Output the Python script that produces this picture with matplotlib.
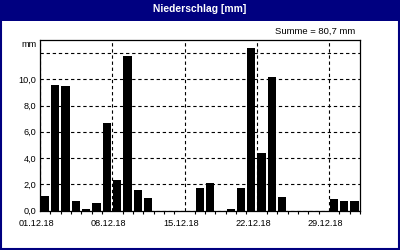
import numpy as np
import matplotlib
matplotlib.use("Agg")
import matplotlib.pyplot as plt
from matplotlib.patches import Rectangle
from matplotlib.transforms import ScaledTranslation

# daily precipitation, December 2018 (mm)
days = list(range(1, 32))
rain = [1.1, 9.6, 9.5, 0.7, 0.1, 0.55, 6.7, 2.3, 11.8, 1.55, 0.95,
        0.0, 0.0, 0.0, 0.0, 1.7, 2.1, 0.0, 0.1, 1.7, 12.4, 4.35,
        10.2, 1.0, 0.0, 0.0, 0.0, 0.0, 0.9, 0.75, 0.7]
xtick_days = [1, 8, 15, 22, 29]
xtick_labels = ['01.12.18', '08.12.18', '15.12.18', '22.12.18', '29.12.18']
ytick_vals = [0, 2, 4, 6, 8, 10]
ytick_labels = ['0,0', '2,0', '4,0', '6,0', '8,0', '10,0']
title = 'Niederschlag [mm]'
summe = 'Summe = 80,7 mm'

NAVY = '#000080'
plt.rcParams['font.family'] = ['Liberation Sans', 'DejaVu Sans']

fig = plt.figure(figsize=(4, 2.5), dpi=100)
fig.patch.set_facecolor('white')

# title bar + frame
fig.patches.append(Rectangle((0, 0.918), 1, 0.082, transform=fig.transFigure,
                             facecolor=NAVY, edgecolor='none', zorder=0))
fig.patches.append(Rectangle((0.002, 0.003), 0.995, 0.995, transform=fig.transFigure,
                             facecolor='none', edgecolor=NAVY, linewidth=1.5, zorder=5))
fig.text(0.5, 0.962, title, color='white', fontsize=7.4, fontweight='bold',
         ha='center', va='center')
fig.text(0.8875, 0.876, summe, fontsize=6.8, ha='right', va='center')
fig.text(36.5 / 400, 1 - 45 / 250, 'mm', fontsize=6.6, ha='right', va='center')

ax = fig.add_axes([0.1, 0.158, 0.8, 0.682])
x = np.array(days) - 1
ax.bar(x + 0.07, rain, width=0.8, align='edge', color='black', zorder=3)
ax.set_xlim(0, 31)
ax.set_ylim(0, 13)

ax.set_yticks(ytick_vals + [12])
ax.set_yticklabels(ytick_labels + [''])
ax.set_xticks([d - 1 for d in xtick_days])
ax.set_xticklabels(xtick_labels)
ax.set_xticks(range(0, 32), minor=True)
ax.tick_params(axis='y', length=0, pad=2.4, labelsize=6.6)
ax.tick_params(axis='x', which='major', length=0, pad=6.2, labelsize=6.6)
ax.tick_params(axis='x', which='minor', length=2, width=0.8, direction='out')
for lab in ax.get_xticklabels():
    lab.set_transform(lab.get_transform() + ScaledTranslation(-0.035, 0, fig.dpi_scale_trans))

ax.grid(True, which='major', color='black', linestyle=(0, (3, 2.5)), linewidth=0.8, zorder=1)
ax.set_axisbelow(True)
for s in ax.spines.values():
    s.set_linewidth(0.9)
    s.set_color('black')

fig.savefig('out.png', dpi=100)
